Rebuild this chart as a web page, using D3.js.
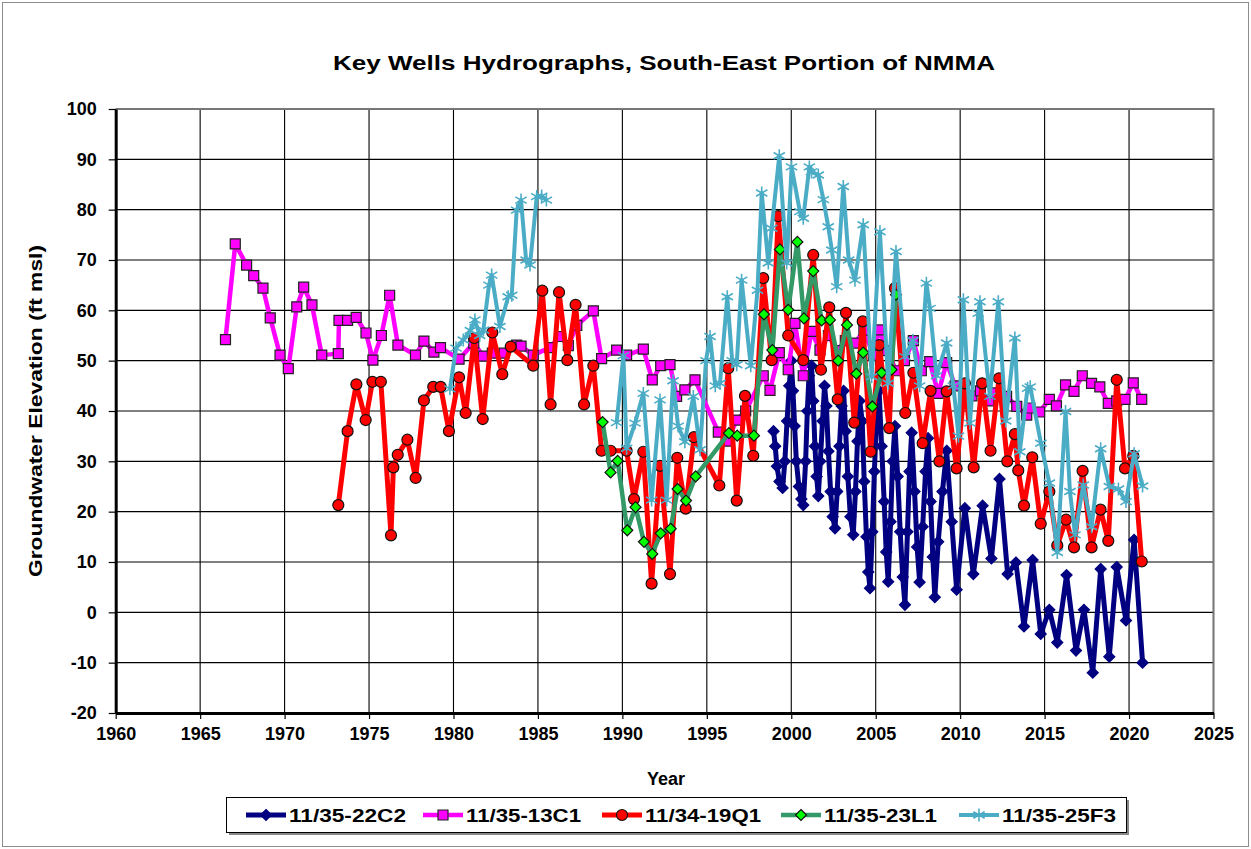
<!DOCTYPE html>
<html>
<head>
<meta charset="utf-8">
<script src="https://cdn.jsdelivr.net/npm/d3@7"></script>
<style>
body { margin: 0; background: #fff; }
text { font-family: "Liberation Sans", Arial, sans-serif; font-weight: bold; fill: #000; }
</style>
</head>
<body>
<svg id="chart" width="1251" height="849"></svg>
<script>
// well 11/35-22C2
var yr22C2 = [1998.95, 1999.05, 1999.15, 1999.3, 1999.49, 1999.62, 1999.75, 1999.88, 2000.0, 2000.1, 2000.2, 2000.3, 2000.45, 2000.6, 2000.71, 2000.85, 2000.95, 2001.05, 2001.2, 2001.3, 2001.4, 2001.5, 2001.6, 2001.72, 2001.85, 2001.97, 2002.08, 2002.2, 2002.33, 2002.45, 2002.59, 2002.72, 2002.85, 2002.98, 2003.1, 2003.22, 2003.35, 2003.5, 2003.67, 2003.8, 2003.92, 2004.05, 2004.2, 2004.32, 2004.45, 2004.56, 2004.66, 2004.8, 2004.92, 2005.05, 2005.2, 2005.35, 2005.5, 2005.62, 2005.74, 2005.88, 2006.0, 2006.14, 2006.3, 2006.45, 2006.6, 2006.73, 2006.88, 2007.0, 2007.13, 2007.3, 2007.45, 2007.6, 2007.78, 2007.95, 2008.1, 2008.25, 2008.38, 2008.5, 2008.7, 2008.95, 2009.2, 2009.5, 2009.79, 2010.28, 2010.78, 2011.33, 2011.85, 2012.33, 2012.81, 2013.3, 2013.78, 2014.29, 2014.77, 2015.28, 2015.75, 2016.3, 2016.86, 2017.33, 2017.85, 2018.32, 2018.83, 2019.27, 2019.82, 2020.3, 2020.8];
var el22C2 = [36, 33, 29, 26, 24.7, 30, 38, 45, 50, 44, 37, 30, 25, 22.5, 21.3, 30, 40, 47, 49, 42, 33, 27, 23.1, 30, 38, 45, 41, 32, 24, 19, 16.7, 24, 33, 41, 44, 36, 27, 19, 15.4, 24, 34, 42, 38, 26, 15, 8, 4.8, 16, 28, 38, 44, 33, 22, 12, 6.1, 18, 30, 37, 27, 16, 7, 1.5, 16, 28, 35.7, 24, 13, 6, 17, 28, 34.6, 22, 11, 3, 14, 24, 32.1, 18, 4.5, 20.7, 7.6, 21.2, 10.7, 26.5, 7.6, 9.9, -2.8, 10.4, -4.3, 0.5, -6.0, 7.4, -7.6, 0.5, -12.0, 8.6, -8.8, 9.0, -1.6, 14.4, -10.0];

// well 11/35-13C1
var yr13C1 = [1966.5, 1967.08, 1967.75, 1968.17, 1968.72, 1969.15, 1969.73, 1970.22, 1970.72, 1971.13, 1971.62, 1972.2, 1973.18, 1973.22, 1973.73, 1974.24, 1974.82, 1975.23, 1975.73, 1976.22, 1976.71, 1977.75, 1978.25, 1978.84, 1979.23, 1980.33, 1981.2, 1981.77, 1982.3, 1983.0, 1983.74, 1984.0, 1984.72, 1985.7, 1986.3, 1986.8, 1987.3, 1988.28, 1988.77, 1989.66, 1990.25, 1991.24, 1991.77, 1992.27, 1992.82, 1993.21, 1993.7, 1994.3, 1995.68, 1996.2, 1996.77, 1997.3, 1998.34, 1998.74, 1999.29, 1999.82, 2000.22, 2000.71, 2001.2, 2001.7, 2002.2, 2002.7, 2003.2, 2003.77, 2004.3, 2004.86, 2005.2, 2005.7, 2006.2, 2006.7, 2007.23, 2007.7, 2008.2, 2008.7, 2009.2, 2009.7, 2010.2, 2010.7, 2011.2, 2011.7, 2012.06, 2012.75, 2013.35, 2013.94, 2014.13, 2014.7, 2015.28, 2015.7, 2016.24, 2016.74, 2017.23, 2017.78, 2018.27, 2018.77, 2019.27, 2019.76, 2020.25, 2020.75];
var el13C1 = [54.2, 73.2, 69.0, 66.9, 64.4, 58.5, 51.1, 48.4, 60.7, 64.6, 61.1, 51.1, 51.4, 58.0, 58.0, 58.6, 55.5, 50.1, 55.0, 63.0, 53.1, 51.1, 53.9, 51.7, 52.6, 50.3, 53.5, 50.9, 51.5, 51.5, 53.1, 52.9, 51.1, 52.6, 54.8, 53, 57, 59.9, 50.4, 52.1, 51.1, 52.3, 46.2, 49.0, 49.2, 42.9, 44.2, 46.2, 35.8, 34, 38.2, 40, 47.0, 44.1, 51.6, 48.2, 57.4, 47.0, 55.8, 52.1, 55, 52, 54, 53.5, 56, 51.1, 56.1, 52, 48, 50, 54.0, 48, 49.8, 43.5, 49.6, 45, 44, 43, 44, 42, 43.6, 42.9, 40.9, 39.2, 40.6, 39.8, 42.3, 41.0, 45.2, 43.9, 47.0, 45.5, 44.8, 41.5, 42, 42.3, 45.6, 42.3];

// well 11/34-19Q1
var yr19Q1 = [1973.18, 1973.73, 1974.25, 1974.8, 1975.2, 1975.7, 1976.3, 1976.44, 1976.7, 1977.27, 1977.76, 1978.25, 1978.8, 1979.24, 1979.73, 1980.33, 1980.72, 1981.23, 1981.73, 1982.3, 1982.89, 1983.39, 1984.72, 1985.26, 1985.75, 1986.25, 1986.74, 1987.23, 1987.73, 1988.28, 1988.77, 1989.3, 1990.25, 1990.69, 1991.24, 1991.73, 1992.23, 1992.82, 1993.25, 1993.75, 1994.24, 1995.74, 1996.27, 1996.77, 1997.26, 1997.75, 1998.34, 1998.84, 1999.23, 1999.82, 2000.71, 2001.3, 2001.76, 2002.25, 2002.75, 2003.24, 2003.73, 2004.23, 2004.7, 2005.21, 2005.8, 2006.14, 2006.75, 2007.23, 2007.78, 2008.25, 2008.77, 2009.2, 2009.79, 2010.28, 2010.8, 2011.3, 2011.8, 2012.3, 2012.79, 2013.24, 2013.44, 2013.78, 2014.27, 2014.77, 2015.28, 2015.75, 2016.27, 2016.74, 2017.25, 2017.78, 2018.31, 2018.77, 2019.27, 2019.76, 2020.25, 2020.75];
var el19Q1 = [21.3, 36.0, 45.3, 38.2, 45.8, 45.8, 15.3, 28.8, 31.3, 34.3, 26.7, 42.1, 44.8, 44.8, 36.0, 46.7, 39.6, 54.5, 38.4, 55.6, 47.3, 52.8, 49.0, 63.9, 41.3, 63.6, 50.1, 61.1, 41.3, 49.0, 32.1, 32.1, 32.1, 22.5, 31.9, 5.7, 29.1, 7.6, 30.7, 20.6, 34.8, 25.2, 48.5, 22.2, 43.0, 31.1, 66.4, 50.1, 78.7, 55.0, 50.1, 71.0, 48.2, 60.6, 42.3, 59.5, 37.7, 57.8, 31.9, 53.1, 36.6, 64.4, 39.6, 47.6, 33.6, 44, 30.0, 43.9, 28.6, 45.5, 28.8, 45.5, 32.1, 46.5, 30.0, 35.4, 28.2, 21.2, 30.8, 17.6, 24.0, 13.3, 18.4, 12.9, 28.1, 12.9, 20.4, 14.2, 46.2, 28.6, 31.1, 10.1];

// well 11/35-23L1
var yr23L1 = [1988.83, 1989.3, 1989.72, 1990.29, 1990.78, 1991.28, 1991.77, 1992.27, 1992.86, 1993.27, 1993.77, 1994.34, 1996.31, 1996.8, 1997.79, 1998.38, 1998.88, 1999.33, 1999.82, 2000.36, 2000.75, 2001.3, 2001.8, 2002.29, 2002.78, 2003.3, 2003.85, 2004.26, 2004.8, 2005.35, 2005.94, 2006.2];
var el23L1 = [37.8, 27.8, 30.1, 16.3, 20.9, 14.0, 11.6, 15.7, 16.6, 24.5, 22.2, 27.0, 35.6, 35.1, 35.1, 59.2, 52.1, 72.1, 60.1, 73.6, 58.4, 67.8, 58.0, 58.1, 50.0, 57.1, 47.4, 51.6, 40.9, 47.6, 48.2, 63.1];

// well 11/35-25F3 (null = no record, line breaks)
var yr25F3 = [1979.79, 1980.15, 1980.58, 1981.0, 1981.27, 1981.55, 1981.77, 1982.1, 1982.26, 1982.75, 1983.24, 1983.45, 1983.74, 1984.0, 1984.3, 1984.53, 1984.93, 1985.22, 1985.5, 1987.5, 1989.66, 1990.06, 1990.25, 1990.75, 1991.24, 1991.73, 1992.23, 1992.62, 1993.0, 1993.3, 1993.7, 1994.2, 1994.6, 1994.95, 1995.19, 1995.5, 1995.78, 1996.21, 1996.5, 1996.77, 1997.06, 1997.6, 1998.0, 1998.25, 1998.64, 1998.84, 1999.29, 1999.73, 2000.02, 2000.51, 2000.71, 2001.07, 2001.2, 2001.6, 2001.9, 2002.19, 2002.4, 2002.69, 2003.08, 2003.4, 2003.77, 2004.26, 2004.76, 2005.25, 2005.74, 2006.2, 2006.73, 2007.2, 2007.6, 2008.0, 2008.21, 2008.6, 2009.2, 2009.6, 2009.9, 2010.19, 2010.58, 2011.07, 2011.17, 2011.76, 2012.26, 2012.7, 2013.24, 2013.53, 2013.99, 2014.15, 2014.78, 2015.28, 2015.75, 2016.24, 2016.5, 2016.8, 2017.29, 2017.78, 2018.32, 2018.83, 2019.37, 2019.82, 2020.3, 2020.8];
var el25F3 = [44.4, 52.5, 54.1, 56, 58.1, 55, 56.1, 65, 67.0, 56.8, 62.7, 63, 79.9, 81.9, 70, 69.0, 82.6, 82.7, 81.9, null, 37.7, 51, 32.6, 37.6, 43.5, 22.3, 42.2, 22.3, 46, 37, 33.9, 42.9, 32.3, 50, 54.8, 45, 45.5, 62.7, 50, 49.2, 66.0, 49, 64, 83.3, 69.4, 76.3, 90.7, 69.4, 88.5, 79.6, 78.3, 88.5, 87.5, 86.9, 82, 76.6, 72, 64.7, 84.6, 70, 66.0, 77.0, 46.8, 75.6, 45.5, 71.7, 50.8, 54, 45, 65.4, 60.4, 47, 53.5, 45, 35, 62.1, 37.6, 59.4, 61.7, 42.9, 61.7, 38, 54.5, 31.9, 44.5, 44.8, 33.6, 25.7, 11.9, 39.9, 24, 15.4, 25.3, 17, 32.5, 25, 24.5, 22, 31.5, 25.1];

var wellNames = ["11/35-22C2", "11/35-13C1", "11/34-19Q1", "11/35-23L1", "11/35-25F3"];
var yTicks = [-20, -10, 0, 10, 20, 30, 40, 50, 60, 70, 80, 90, 100];
var xTicks = [1960, 1965, 1970, 1975, 1980, 1985, 1990, 1995, 2000, 2005, 2010, 2015, 2020, 2025];

var width = 1251, height = 849;
var plot = { left: 115.7, right: 1213.5, top: 109, bottom: 713 };

var svg = d3.select("#chart");

// outer frame
svg.append("rect")
	.attr("x", 2.5).attr("y", 2.5)
	.attr("width", width - 5).attr("height", height - 5)
	.attr("fill", "#fff").attr("stroke", "#8c8c8c").attr("stroke-width", 1);

var xScale = d3.scaleLinear().domain([1960, 2025]).range([plot.left, plot.right]);
var yScale = d3.scaleLinear().domain([-20, 100]).range([plot.bottom, plot.top]);

// grid
var grid = svg.append("g");
grid.selectAll(".hg").data(yTicks).enter().append("line")
	.attr("x1", plot.left).attr("x2", plot.right)
	.attr("y1", function(d) { return yScale(d); })
	.attr("y2", function(d) { return yScale(d); })
	.attr("stroke", "#000").attr("stroke-width", 1.1);
grid.selectAll(".vg").data(xTicks).enter().append("line")
	.attr("y1", plot.top).attr("y2", plot.bottom)
	.attr("x1", function(d) { return xScale(d); })
	.attr("x2", function(d) { return xScale(d); })
	.attr("stroke", "#000").attr("stroke-width", 1.1);

// top / right frame of the plot area
svg.append("path")
	.attr("d", "M" + plot.left + "," + plot.top + "H" + plot.right + "V" + plot.bottom)
	.attr("fill", "none").attr("stroke", "#777").attr("stroke-width", 2);

// axes (plain hyphen for negatives, like the original)
var xAxis = d3.axisBottom(xScale).tickValues(xTicks).tickSize(6).tickSizeOuter(0).tickPadding(8)
	.tickFormat(function(d) { return String(d); });
var yAxis = d3.axisLeft(yScale).tickValues(yTicks).tickSize(7).tickSizeOuter(0).tickPadding(12)
	.tickFormat(function(d) { return String(d); });

var gx = svg.append("g")
	.attr("transform", "translate(0," + plot.bottom + ")")
	.call(xAxis);
var gy = svg.append("g")
	.attr("transform", "translate(" + plot.left + ",0)")
	.call(yAxis);

[gx, gy].forEach(function(g) {
	g.select(".domain").attr("stroke", "#000").attr("stroke-width", 3);
	g.selectAll(".tick line").attr("stroke", "#000").attr("stroke-width", 1.2);
	g.selectAll(".tick text")
		.style("font-family", '"Liberation Sans", Arial, sans-serif')
		.style("font-weight", "bold")
		.style("font-size", "18px")
		.attr("fill", "#000");
});

// series
function pairs(years, vals) {
	return years.map(function(d, i) { return { x: d, y: vals[i] }; });
}

var series = [
	{ name: wellNames[0], data: pairs(yr22C2, el22C2), color: "#000080", lw: 5, marker: "diamond", fill: "#000080", stroke: "#000080", size: 5.5 },
	{ name: wellNames[1], data: pairs(yr13C1, el13C1), color: "#ff00ff", lw: 4.5, marker: "square", fill: "#ff00ff", stroke: "#222", size: 5 },
	{ name: wellNames[2], data: pairs(yr19Q1, el19Q1), color: "#ff0000", lw: 5, marker: "circle", fill: "#ff0000", stroke: "#111", size: 5.5 },
	{ name: wellNames[3], data: pairs(yr23L1, el23L1), color: "#339966", lw: 4.5, marker: "diamond", fill: "#00ff00", stroke: "#111", size: 5.5 },
	{ name: wellNames[4], data: pairs(yr25F3, el25F3), color: "#4bacc6", lw: 4, marker: "star", fill: "none", stroke: "#4bacc6", size: 6.5 }
];

function markerPath(type, s) {
	if (type === "diamond") return "M0," + (-s) + "L" + s + ",0L0," + s + "L" + (-s) + ",0Z";
	if (type === "square") return "M" + (-s) + "," + (-s) + "H" + s + "V" + s + "H" + (-s) + "Z";
	if (type === "circle") return d3.arc()({ innerRadius: 0, outerRadius: s, startAngle: 0, endAngle: 2 * Math.PI });
	// asterisk
	var a = s * 0.87, b = s * 0.5;
	return "M0," + (-s) + "V" + s + "M" + (-a) + "," + (-b) + "L" + a + "," + b + "M" + (-a) + "," + b + "L" + a + "," + (-b);
}

var line = d3.line()
	.defined(function(d) { return d.y !== null; })
	.x(function(d) { return xScale(d.x); })
	.y(function(d) { return yScale(d.y); });

series.forEach(function(s) {
	var g = svg.append("g");
	g.append("path")
		.attr("d", line(s.data))
		.attr("fill", "none")
		.attr("stroke", s.color)
		.attr("stroke-width", s.lw)
		.attr("stroke-linejoin", "round");
	g.selectAll(".pt")
		.data(s.data.filter(function(d) { return d.y !== null; }))
		.enter().append("path")
		.attr("transform", function(d) { return "translate(" + xScale(d.x) + "," + yScale(d.y) + ")"; })
		.attr("d", markerPath(s.marker, s.size))
		.attr("fill", s.fill)
		.attr("stroke", s.stroke)
		.attr("stroke-width", s.marker === "star" ? 1.6 : 1.2);
});

// title & axis titles
svg.append("text")
	.attr("x", 664).attr("y", 70)
	.attr("text-anchor", "middle")
	.attr("textLength", 662).attr("lengthAdjust", "spacingAndGlyphs")
	.style("font-size", "21px")
	.text("Key Wells Hydrographs, South-East Portion of NMMA");

svg.append("text")
	.attr("transform", "translate(42,411) rotate(-90)")
	.attr("text-anchor", "middle")
	.attr("textLength", 332).attr("lengthAdjust", "spacingAndGlyphs")
	.style("font-size", "18px")
	.text("Groundwater Elevation (ft msl)");

svg.append("text")
	.attr("x", 666).attr("y", 785)
	.attr("text-anchor", "middle")
	.style("font-size", "18px")
	.text("Year");

// legend
var legend = svg.append("g");
legend.append("rect")
	.attr("x", 229).attr("y", 800).attr("width", 900).attr("height", 35)
	.attr("fill", "#888");
legend.append("rect")
	.attr("x", 226.5).attr("y", 797.5).attr("width", 900).attr("height", 35)
	.attr("fill", "#fff").attr("stroke", "#000").attr("stroke-width", 1);

var legX = [246, 423, 602, 781, 959];
var legTextW = [117, 115, 116, 113, 114];
series.forEach(function(s, i) {
	var g = legend.append("g").attr("transform", "translate(" + legX[i] + ",815)");
	g.append("line")
		.attr("x1", 0).attr("x2", 40)
		.attr("stroke", s.color).attr("stroke-width", s.lw);
	g.append("path")
		.attr("transform", "translate(20,0)")
		.attr("d", markerPath(s.marker, s.size))
		.attr("fill", s.fill).attr("stroke", s.stroke)
		.attr("stroke-width", s.marker === "star" ? 1.6 : 1.2);
	g.append("text")
		.attr("x", 43).attr("y", 7)
		.attr("textLength", legTextW[i]).attr("lengthAdjust", "spacingAndGlyphs")
		.style("font-size", "19px")
		.text(s.name);
});
</script>
</body>
</html>
